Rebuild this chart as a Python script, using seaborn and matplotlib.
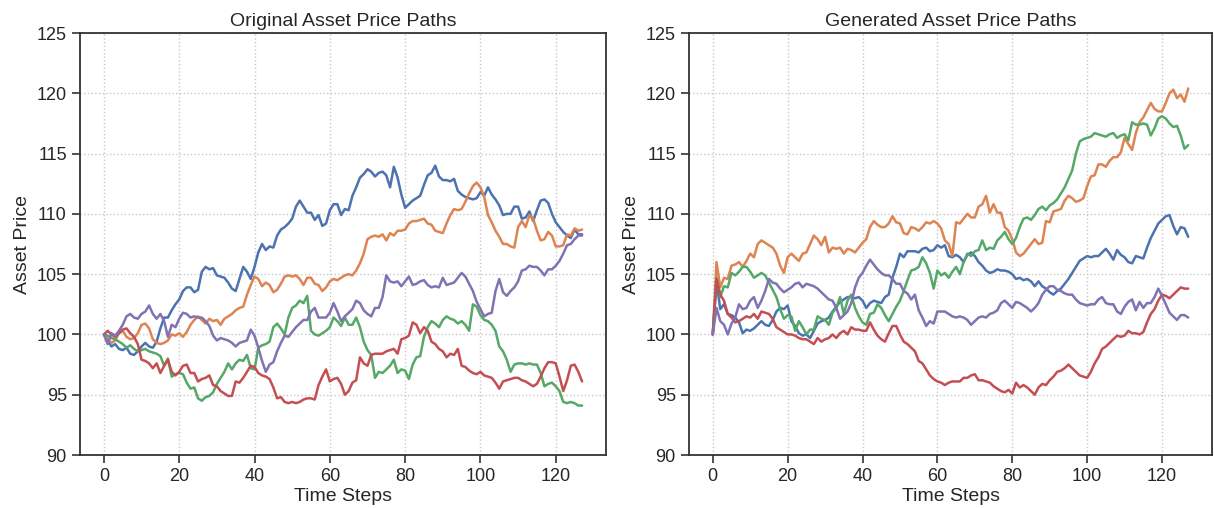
import numpy as np
import pandas as pd
import matplotlib
matplotlib.use("Agg")
import matplotlib.pyplot as plt
import seaborn as sns

steps = list(range(128))

orig_blue = [100.0, 99.5, 99.0, 99.2, 98.8, 98.7, 98.9, 98.4, 98.3, 98.6, 99.0, 99.3, 99.0, 98.9, 99.4, 100.5, 101.4, 101.4, 102.0, 102.5,
             102.9, 103.6, 103.9, 103.9, 103.5, 103.7, 105.2, 105.6, 105.4, 105.5, 104.9, 104.8, 104.7, 104.3, 103.8, 103.6, 104.6, 105.6, 105.2, 104.6,
             105.6, 106.8, 107.5, 107.0, 107.3, 107.2, 108.2, 108.7, 108.9, 109.2, 109.6, 110.6, 111.1, 110.6, 110.1, 110.1, 109.5, 109.9, 109.0, 109.2,
             110.3, 110.8, 110.8, 109.9, 110.4, 110.3, 111.5, 112.2, 113.0, 113.3, 113.7, 113.5, 113.1, 113.4, 113.5, 113.2, 112.2, 113.9, 113.0, 111.6,
             110.5, 110.8, 111.1, 111.3, 111.5, 112.4, 113.2, 113.4, 114.0, 113.1, 112.8, 112.8, 112.7, 112.9, 111.9, 111.6, 111.4, 111.3, 111.2, 111.3,
             111.8, 111.5, 112.2, 111.6, 111.2, 110.7, 109.9, 110.0, 110.0, 110.6, 110.6, 109.6, 109.7, 110.2, 109.4, 110.3, 111.1, 111.2, 110.9, 110.0,
             109.3, 108.9, 108.5, 108.2, 108.0, 108.7, 108.3, 108.3]
orig_orange = [100.0, 99.6, 99.3, 99.5, 100.1, 100.3, 99.8, 99.6, 99.7, 100.1, 100.8, 100.9, 100.5, 99.6, 99.3, 99.2, 99.3, 99.5, 100.0, 99.9,
               100.1, 99.8, 100.2, 100.8, 101.2, 101.5, 101.2, 100.9, 101.3, 101.1, 101.2, 100.8, 101.3, 101.5, 101.7, 102.0, 102.2, 102.3, 103.3, 104.1,
               104.8, 104.6, 104.0, 104.3, 104.1, 103.5, 103.7, 104.2, 104.8, 104.9, 104.8, 104.9, 104.6, 104.1, 104.7, 104.7, 104.2, 104.1, 103.6, 103.9,
               104.4, 104.6, 104.5, 104.7, 104.9, 105.0, 104.9, 105.3, 105.9, 106.7, 107.9, 108.1, 108.2, 108.1, 108.3, 107.8, 108.4, 108.2, 108.6, 108.6,
               108.7, 109.2, 109.4, 109.4, 109.5, 109.6, 109.2, 109.1, 108.6, 108.5, 108.4, 109.2, 109.9, 110.4, 110.3, 110.4, 111.0, 111.7, 112.3, 112.6,
               112.2, 111.4, 109.9, 109.3, 108.6, 108.1, 107.5, 107.5, 107.3, 107.2, 108.9, 109.4, 108.9, 109.9, 109.6, 108.6, 107.8, 107.9, 108.5, 108.2,
               107.3, 107.3, 107.4, 108.3, 108.2, 108.8, 108.6, 108.7]
orig_green = [100.0, 99.9, 99.7, 99.6, 99.4, 99.2, 98.9, 99.1, 98.8, 98.6, 98.7, 98.8, 98.6, 98.5, 98.4, 98.2, 97.4, 98.0, 96.5, 96.7,
              96.8, 96.7, 96.0, 95.5, 95.6, 94.7, 94.5, 94.8, 94.9, 95.2, 95.9, 96.4, 96.9, 97.6, 97.1, 97.6, 97.9, 97.8, 98.3, 97.2,
              97.1, 98.9, 99.1, 99.2, 99.4, 100.6, 100.9, 100.5, 100.0, 101.4, 102.2, 102.4, 102.8, 102.6, 103.2, 100.3, 100.0, 99.9, 100.1, 100.3,
              100.6, 101.4, 101.1, 100.7, 101.4, 100.8, 100.8, 101.4, 100.6, 99.4, 98.7, 98.3, 96.4, 96.9, 96.8, 97.1, 97.4, 97.9, 96.8, 97.1,
              97.0, 96.3, 97.5, 98.1, 98.2, 99.8, 100.6, 101.1, 100.9, 100.6, 101.2, 101.5, 101.3, 101.2, 100.9, 101.1, 100.8, 100.3, 102.5, 102.3,
              101.6, 101.2, 101.1, 100.8, 100.3, 99.0, 98.6, 97.9, 96.9, 97.5, 97.6, 97.6, 97.5, 97.6, 97.5, 97.5, 96.8, 95.7, 95.9, 96.0,
              95.7, 95.3, 94.4, 94.3, 94.4, 94.3, 94.1, 94.1]
orig_red = [100.0, 100.3, 100.0, 99.8, 100.1, 100.4, 100.5, 100.1, 99.8, 99.2, 97.9, 97.8, 97.6, 97.2, 97.6, 96.8, 97.4, 97.9, 96.9, 96.6,
            96.9, 97.4, 97.5, 96.8, 96.8, 96.1, 96.3, 96.4, 96.6, 95.8, 95.7, 95.3, 95.1, 94.9, 94.9, 96.1, 96.0, 96.4, 96.9, 97.4,
            97.3, 96.8, 96.6, 96.5, 96.3, 95.6, 94.7, 94.8, 94.4, 94.3, 94.4, 94.3, 94.4, 94.6, 94.7, 94.7, 94.6, 95.8, 96.5, 97.1,
            96.1, 96.3, 96.4, 95.9, 95.0, 95.3, 96.0, 96.2, 98.1, 97.6, 97.4, 98.3, 98.4, 98.4, 98.4, 98.6, 98.7, 98.8, 98.4, 99.6,
            99.7, 99.9, 101.0, 100.8, 100.1, 100.6, 100.3, 99.4, 99.2, 98.8, 98.6, 98.1, 98.4, 98.3, 98.8, 97.4, 97.3, 97.0, 96.8, 96.7,
            96.9, 96.6, 96.5, 96.4, 96.0, 95.5, 96.1, 96.2, 96.3, 96.4, 96.4, 96.2, 96.1, 95.9, 95.7, 95.9, 96.5, 97.2, 97.7, 97.7,
            97.6, 96.5, 95.3, 96.2, 97.4, 97.5, 96.9, 96.1]
orig_purple = [100.0, 99.2, 100.1, 99.9, 100.3, 100.8, 101.5, 101.7, 101.4, 101.3, 101.7, 101.9, 102.4, 101.7, 101.3, 101.7, 101.1, 99.8, 100.8, 100.6,
               101.3, 101.8, 101.7, 101.4, 101.5, 101.4, 101.4, 101.1, 100.7, 99.9, 99.5, 99.7, 99.6, 99.5, 99.3, 99.0, 99.3, 99.4, 99.5, 100.4,
               99.9, 98.9, 97.8, 96.9, 97.5, 97.7, 98.6, 99.3, 99.9, 99.8, 100.2, 100.6, 100.9, 101.2, 101.2, 101.9, 102.2, 101.4, 101.4, 101.4,
               101.8, 102.6, 101.9, 101.1, 101.5, 101.8, 102.1, 102.8, 102.6, 102.0, 101.7, 101.5, 102.2, 102.2, 103.1, 104.9, 104.4, 104.3, 104.4, 104.0,
               104.4, 104.8, 104.1, 104.2, 104.4, 104.5, 104.1, 103.9, 104.0, 103.9, 104.7, 104.1, 104.2, 104.3, 104.7, 105.1, 104.8, 104.2, 103.6, 102.7,
               102.1, 101.5, 101.7, 101.8, 103.6, 104.6, 103.5, 103.2, 103.6, 103.9, 104.4, 105.3, 105.4, 105.7, 105.6, 105.6, 105.3, 104.9, 105.4, 105.4,
               105.7, 106.1, 106.7, 107.4, 107.5, 107.9, 108.2, 108.2]

gen_blue = [100.0, 104.4, 102.1, 102.5, 101.7, 101.6, 101.4, 101.0, 100.1, 100.4, 100.3, 100.5, 100.8, 101.1, 100.8, 100.7, 101.2, 101.9, 102.2, 102.1,
            102.4, 101.1, 100.7, 100.1, 99.9, 100.0, 99.7, 100.3, 100.9, 101.1, 101.2, 101.4, 101.9, 102.3, 102.7, 102.9, 103.1, 103.1, 103.0, 103.1,
            102.8, 102.2, 102.6, 102.8, 102.7, 102.6, 103.1, 103.3, 104.7, 105.6, 106.7, 106.4, 106.9, 106.9, 106.9, 106.8, 107.1, 107.2, 106.9, 107.0,
            107.4, 107.2, 107.4, 106.5, 106.4, 106.6, 106.4, 106.0, 106.6, 106.8, 106.5, 106.0, 105.7, 105.3, 105.1, 105.2, 105.4, 105.3, 105.3, 105.2,
            105.0, 104.6, 104.7, 104.5, 104.6, 104.4, 104.0, 104.4, 104.0, 103.8, 103.5, 103.3, 103.6, 103.8, 104.2, 104.6, 105.1, 105.6, 106.1, 106.3,
            106.5, 106.4, 106.5, 106.5, 106.8, 107.1, 106.7, 106.2, 107.0, 106.6, 106.4, 106.0, 105.9, 106.5, 106.4, 106.3, 107.2, 108.0, 108.6, 109.2,
            109.5, 109.8, 109.9, 109.0, 108.3, 108.9, 108.8, 108.1]
gen_orange = [100.0, 106.0, 103.9, 104.7, 104.6, 105.7, 105.8, 106.0, 105.6, 106.1, 106.7, 106.4, 107.5, 107.8, 107.6, 107.4, 107.2, 106.7, 105.7, 105.1,
              106.4, 106.7, 106.4, 106.1, 106.7, 106.8, 107.5, 108.2, 107.9, 107.4, 108.1, 106.8, 107.2, 107.1, 107.2, 106.7, 107.1, 107.0, 106.8, 107.2,
              107.6, 107.9, 108.9, 109.4, 109.1, 108.9, 108.9, 109.2, 109.8, 109.3, 109.2, 108.4, 108.3, 108.9, 108.8, 108.6, 108.9, 109.3, 109.2, 109.4,
              109.2, 108.8, 107.8, 107.5, 106.5, 109.3, 109.2, 109.6, 110.0, 109.7, 109.7, 110.6, 110.8, 111.5, 110.1, 110.8, 110.1, 110.1, 108.9, 108.6,
              107.9, 106.8, 106.5, 106.7, 107.1, 107.5, 107.9, 107.5, 107.6, 109.4, 109.3, 110.2, 110.3, 110.4, 111.1, 111.5, 111.3, 111.0, 111.1, 111.3,
              112.3, 113.1, 113.2, 114.1, 114.1, 113.9, 114.4, 114.7, 114.7, 115.1, 116.3, 115.8, 115.3, 116.7, 117.6, 118.0, 118.6, 119.2, 118.7, 118.5,
              118.5, 119.2, 120.0, 120.3, 119.6, 119.9, 119.3, 120.4]
gen_green = [100.0, 104.7, 103.1, 104.0, 103.9, 105.1, 104.9, 105.2, 105.6, 105.6, 105.2, 104.7, 104.9, 105.1, 104.9, 104.3, 103.7, 103.1, 102.1, 101.3,
             101.6, 101.5, 100.3, 101.1, 100.6, 100.0, 100.4, 100.4, 101.5, 101.3, 101.2, 100.8, 101.8, 102.2, 103.1, 101.7, 102.8, 103.3, 102.2, 101.5,
             101.0, 100.8, 101.7, 101.8, 102.5, 102.2, 101.6, 101.1, 101.7, 102.3, 102.8, 103.6, 104.5, 105.3, 105.4, 105.6, 106.4, 105.9, 105.1, 103.8,
             105.3, 104.9, 105.1, 104.7, 105.2, 105.6, 105.0, 106.0, 106.7, 106.5, 106.9, 107.0, 107.8, 107.0, 107.2, 107.1, 107.8, 108.1, 108.5, 107.9,
             107.5, 108.0, 108.9, 109.6, 109.7, 109.5, 109.9, 110.4, 110.6, 110.3, 110.7, 110.9, 111.2, 111.7, 112.2, 112.9, 113.6, 115.0, 116.0, 116.2,
             116.3, 116.4, 116.7, 116.6, 116.5, 116.4, 116.6, 116.7, 116.3, 116.5, 116.6, 116.1, 117.6, 117.4, 117.4, 117.5, 117.4, 116.5, 117.1, 117.9,
             118.1, 117.9, 117.5, 117.2, 117.3, 116.5, 115.4, 115.7]
gen_red = [100.0, 104.6, 103.3, 102.8, 101.7, 101.4, 101.0, 101.1, 101.3, 101.5, 101.4, 101.7, 101.3, 101.9, 101.8, 101.7, 101.3, 100.6, 100.4, 100.2,
           100.0, 100.0, 99.9, 99.7, 99.6, 99.6, 99.4, 99.2, 99.7, 99.4, 99.6, 99.7, 100.0, 99.7, 100.1, 100.3, 100.0, 100.6, 100.4, 100.4,
           100.3, 100.3, 101.0, 100.4, 99.9, 99.6, 99.4, 100.1, 100.7, 100.7, 100.0, 99.4, 99.2, 98.9, 98.6, 97.8, 97.6, 97.1, 96.6, 96.3,
           96.1, 96.0, 95.8, 96.0, 96.1, 96.1, 96.1, 96.4, 96.4, 96.6, 96.7, 96.2, 96.2, 96.1, 96.0, 95.7, 95.5, 95.3, 95.2, 95.4,
           95.1, 96.0, 95.6, 95.8, 95.6, 95.3, 95.0, 95.6, 95.9, 95.8, 96.2, 96.5, 96.9, 97.0, 97.2, 97.5, 97.2, 96.9, 96.6, 96.5,
           96.4, 96.9, 97.6, 98.1, 98.8, 99.0, 99.3, 99.6, 99.9, 99.8, 99.9, 100.3, 100.1, 100.1, 100.0, 100.2, 101.0, 101.7, 102.1, 102.8,
           103.3, 103.2, 103.0, 103.3, 103.6, 103.9, 103.8, 103.8]
gen_purple = [100.0, 102.2, 101.1, 100.8, 100.0, 100.9, 101.4, 102.5, 102.1, 102.2, 102.8, 103.1, 102.2, 102.8, 103.6, 104.6, 104.3, 104.2, 103.8, 103.5,
              103.7, 103.9, 104.2, 104.3, 103.9, 104.2, 104.1, 104.0, 103.8, 103.5, 103.2, 102.9, 102.8, 102.2, 101.3, 101.6, 101.9, 102.6, 103.9, 104.7,
              105.1, 105.7, 106.2, 105.8, 105.4, 105.1, 104.9, 104.9, 104.6, 104.2, 104.2, 103.6, 103.4, 102.9, 103.3, 102.0, 101.4, 100.7, 101.1, 100.9,
              101.9, 101.9, 101.9, 101.7, 101.5, 101.4, 101.5, 101.4, 101.2, 100.8, 101.1, 101.4, 101.5, 101.4, 101.7, 101.8, 102.0, 102.6, 102.8, 102.5,
              102.2, 102.7, 102.6, 102.4, 102.2, 101.9, 102.2, 102.6, 103.3, 103.7, 104.0, 104.0, 103.7, 103.6, 103.4, 103.3, 103.3, 102.9, 102.6, 102.5,
              102.4, 102.5, 102.5, 102.9, 103.1, 102.6, 102.5, 102.5, 101.9, 101.7, 102.3, 102.7, 102.9, 102.0, 102.7, 102.2, 102.6, 102.6, 103.1, 103.8,
              103.2, 102.5, 101.8, 101.5, 101.2, 101.6, 101.6, 101.4]

path_names = ["Path 1", "Path 2", "Path 3", "Path 4", "Path 5"]
titles = ["Original Asset Price Paths", "Generated Asset Price Paths"]
x_ticks = [0, 20, 40, 60, 80, 100, 120]
y_ticks = [90, 95, 100, 105, 110, 115, 120, 125]


def long_frame(series_list):
    frames = []
    for name, vals in zip(path_names, series_list):
        frames.append(pd.DataFrame({"step": steps, "price": vals, "path": name}))
    return pd.concat(frames, ignore_index=True)


df_orig = long_frame([orig_blue, orig_orange, orig_green, orig_red, orig_purple])
df_gen = long_frame([gen_blue, gen_orange, gen_green, gen_red, gen_purple])

sns.set_theme(style="ticks")
plt.rcParams["font.family"] = ["Liberation Sans", "DejaVu Sans"]
plt.rcParams["axes.edgecolor"] = "#333333"
plt.rcParams["xtick.color"] = "#333333"
plt.rcParams["ytick.color"] = "#333333"

palette = sns.color_palette("deep", 5)

fig = plt.figure(figsize=(12.14, 5.08), dpi=100)
ax1 = fig.add_axes([80 / 1214, 53 / 508, 526 / 1214, 422 / 508])
ax2 = fig.add_axes([689 / 1214, 53 / 508, 523 / 1214, 422 / 508])

for ax, df, title in [(ax1, df_orig, titles[0]), (ax2, df_gen, titles[1])]:
    sns.lineplot(data=df, x="step", y="price", hue="path", palette=palette,
                 linewidth=1.8, legend=False, ax=ax)
    ax.set_title(title, fontsize=14, color="#262626", pad=5)
    ax.set_xlabel("Time Steps", fontsize=14, color="#262626", labelpad=2)
    ax.set_ylabel("Asset Price", fontsize=14, color="#262626", labelpad=4)
    ax.set_ylim(90, 125)
    ax.set_yticks(y_ticks)
    ax.set_xticks(x_ticks)
    ax.tick_params(labelsize=13, length=6, width=1.2, labelcolor="#262626")
    ax.grid(True, linestyle=":", linewidth=1.0, color="#c8c8c8")
    for sp in ax.spines.values():
        sp.set_linewidth(1.3)
        sp.set_visible(True)

fig.savefig("out.png", dpi=100)
